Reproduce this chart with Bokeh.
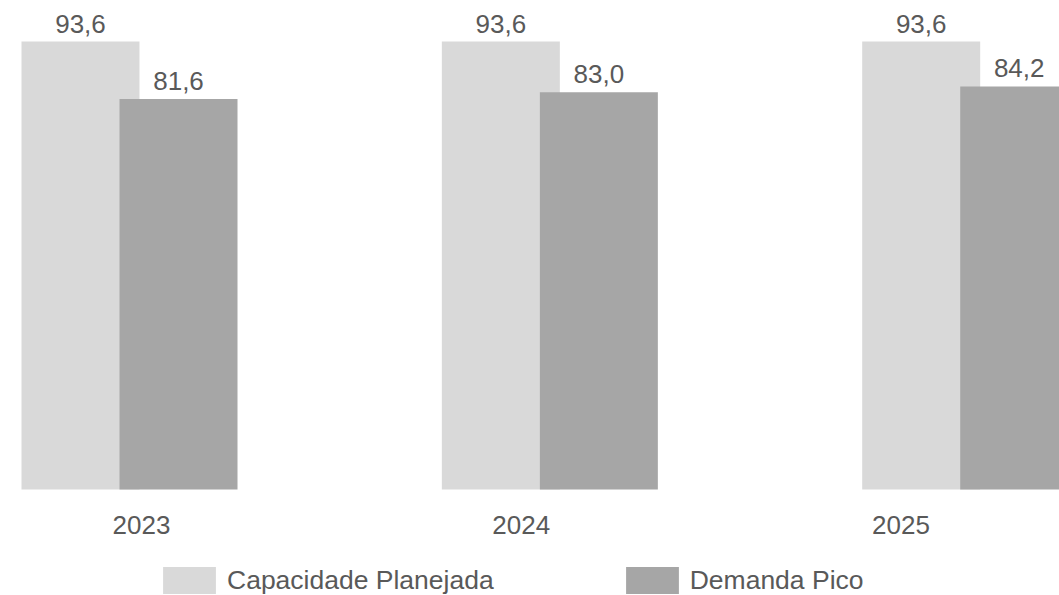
from bokeh.core.properties import value
from bokeh.embed import file_html
from bokeh.models import ColumnDataSource, Legend, LegendItem, Range1d
from bokeh.plotting import figure
from bokeh.resources import INLINE

# Data
anos = ["2023", "2024", "2025"]
capacidade_planejada = [93.6, 93.6, 93.6]
demanda_pico = [81.6, 83.0, 84.2]

# Style
COR_CAPACIDADE = "#d9d9d9"
COR_DEMANDA = "#a6a6a6"
COR_TEXTO = "#595959"
FONTE = "Liberation Sans"
TAM_FONTE = "26px"

W, H = 1059, 595
BASE_PX = 489            # pixel row of the zero line
PX_POR_UNIDADE = 4.7863  # vertical scale
GRUPO_PX = 420.35        # horizontal distance between groups
CENTRO0_PX = 129.0       # centre of the first group
ROTULO_PASSO_PX = 379.75 # spacing of the year labels
ROTULO0_PX = 141.0

desloc = 0.1166          # half distance between the two bars of a group
largura = 0.2807         # bar width in group units


def fmt(v):
    return f"{v:.1f}".replace(".", ",")


idx = list(range(len(anos)))
src = ColumnDataSource(dict(
    idx=idx,
    x_cap=[i - desloc for i in idx],
    x_dem=[i + desloc for i in idx],
    cap=capacidade_planejada,
    dem=demanda_pico,
    cap_txt=[fmt(v) for v in capacidade_planejada],
    dem_txt=[fmt(v) for v in demanda_pico],
    ano=anos,
    zero=[0] * len(anos),
))

x0 = -CENTRO0_PX / GRUPO_PX
y_top = BASE_PX / PX_POR_UNIDADE
y_bot = -(H - BASE_PX) / PX_POR_UNIDADE

p = figure(
    width=W, height=H,
    x_range=Range1d(x0, x0 + W / GRUPO_PX),
    y_range=Range1d(y_bot, y_top),
    x_axis_location=None, y_axis_location=None,
    min_border=0, outline_line_color=None,
    toolbar_location=None, output_backend="svg",
)
p.background_fill_color = "white"
p.border_fill_color = "white"
p.grid.visible = False

lx0 = -ROTULO0_PX / ROTULO_PASSO_PX
p.extra_x_ranges = {"anos": Range1d(lx0, lx0 + W / ROTULO_PASSO_PX)}

r_cap = p.vbar(x="x_cap", top="cap", bottom=0, width=largura, source=src,
               fill_color=COR_CAPACIDADE, line_color=None)
r_dem = p.vbar(x="x_dem", top="dem", bottom=0, width=largura, source=src,
               fill_color=COR_DEMANDA, line_color=None)

# value labels above each bar
for xcol, ycol, tcol in (("x_cap", "cap", "cap_txt"), ("x_dem", "dem", "dem_txt")):
    p.text(x=xcol, y=ycol, text=tcol, source=src, y_offset=-18,
           text_align="center", text_baseline="alphabetic",
           text_font=value(FONTE), text_font_size=TAM_FONTE, text_color=COR_TEXTO)

# year labels under the groups
p.text(x="idx", y="zero", text="ano", source=src, x_range_name="anos", y_offset=35,
       text_align="center", text_baseline="alphabetic",
       text_font=value(FONTE), text_font_size=TAM_FONTE, text_color=COR_TEXTO)

legend = Legend(
    items=[LegendItem(label="Capacidade Planejada", renderers=[r_cap]),
           LegendItem(label="Demanda Pico", renderers=[r_dem])],
    location=(156, -2), orientation="horizontal",
    glyph_width=66, glyph_height=34, label_standoff=5, spacing=125,
    padding=0, margin=0, border_line_alpha=0, background_fill_alpha=0,
    label_text_font=FONTE, label_text_font_size="26.5px", label_text_color=COR_TEXTO,
)
p.add_layout(legend)

open("out.html", "w").write(file_html(p, INLINE))
